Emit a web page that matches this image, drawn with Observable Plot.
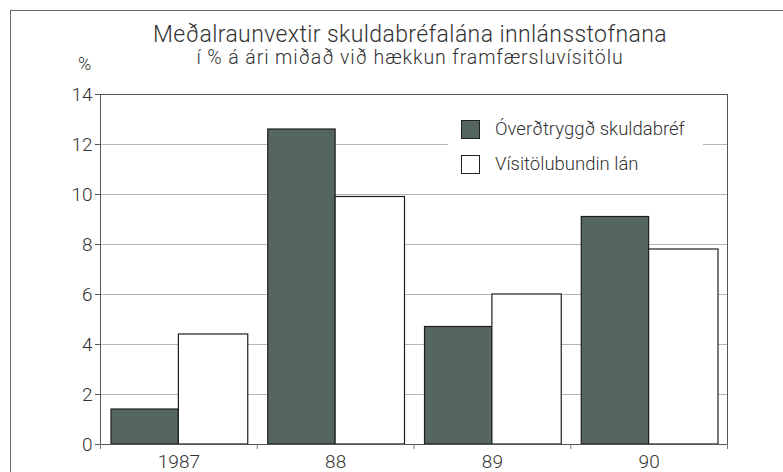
<!DOCTYPE html>
<html>
<head>
<meta charset="utf-8">
<script src="https://cdn.jsdelivr.net/npm/d3@7"></script>
<script src="https://cdn.jsdelivr.net/npm/@observablehq/plot@0.6"></script>
<style>
  html, body { margin: 0; padding: 0; background: #fff; }
  #wrap { position: relative; width: 783px; height: 472px; overflow: hidden; font-family: Roboto, "Liberation Sans", sans-serif; color: #333; }
  #border { position: absolute; left: 10px; top: 10px; width: 800px; height: 500px; border-top: 1.5px solid #666; border-left: 1.5px solid #666; }
  #chart { position: absolute; left: 0; top: 0; }
  .title { position: absolute; left: 110px; width: 600px; text-align: center; white-space: nowrap; font-weight: 300; }
  #t1 { top: 22px; font-size: 23px; line-height: 26px; letter-spacing: 0.4px; }
  #t2 { top: 47px; font-size: 19.5px; line-height: 22px; letter-spacing: 0.9px; }
  #unit { position: absolute; left: 78px; top: 54px; font-size: 18px; line-height: 20px; font-weight: 300; }
  #legend { position: absolute; left: 448px; top: 108px; width: 255px; height: 78px; background: #fff; }
  .item { position: absolute; left: 13px; height: 20px; display: flex; align-items: center; font-size: 18.5px; font-weight: 300; white-space: nowrap; }
  .sw { width: 19px; height: 19px; border: 1px solid #222; box-sizing: border-box; margin-right: 15px; }
</style>
</head>
<body>
<div id="wrap">
  <div id="border"></div>
  <div id="chart"></div>
  <div class="title" id="t1"></div>
  <div class="title" id="t2"></div>
  <div id="unit"></div>
  <div id="legend"></div>
</div>
<script>
const titleText = "Meðalraunvextir skuldabréfalána innlánsstofnana";
const subtitleText = "í % á ári miðað við hækkun framfærsluvísitölu";
const unitText = "%";
const years = ["1987", "88", "89", "90"];
const seriesNames = ["Óverðtryggð skuldabréf", "Vísitölubundin lán"];
const overtryggd = [1.4, 12.6, 4.7, 9.1];
const visitolu = [4.4, 9.9, 6.0, 7.8];
const yTicks = [0, 2, 4, 6, 8, 10, 12, 14];
const seriesColors = ["#55655f", "#ffffff"];

document.getElementById("t1").textContent = titleText;
document.getElementById("t2").textContent = subtitleText;
document.getElementById("unit").textContent = unitText;

const legend = document.getElementById("legend");
seriesNames.forEach((name, k) => {
  const it = document.createElement("div");
  it.className = "item";
  it.style.top = (11 + k * 35) + "px";
  const sw = document.createElement("div");
  sw.className = "sw";
  sw.style.background = seriesColors[k];
  const tx = document.createElement("span");
  tx.textContent = name;
  it.appendChild(sw); it.appendChild(tx);
  legend.appendChild(it);
});

const data = years.map((year, i) => ({i, year, a: overtryggd[i], b: visitolu[i]}));

const chart = Plot.plot({
  width: 783,
  height: 472,
  marginLeft: 100,
  marginRight: 56,
  marginTop: 94,
  marginBottom: 28,
  style: {fontFamily: "Roboto, 'Liberation Sans', sans-serif", fontSize: "19px", color: "#333", fontWeight: 300, background: "transparent"},
  x: {domain: [0, years.length], axis: null},
  y: {domain: [0, 14], axis: null},
  marks: [
    Plot.gridY(yTicks, {stroke: "#b5b5b5", strokeOpacity: 1}),
    Plot.rectY(data, {x1: d => d.i, x2: d => d.i + 0.5, y: "a", fill: seriesColors[0], stroke: "#1e1e1e", strokeWidth: 1.2, insetLeft: 11}),
    Plot.rectY(data, {x1: d => d.i + 0.5, x2: d => d.i + 1, y: "b", fill: seriesColors[1], stroke: "#1e1e1e", strokeWidth: 1.2, insetRight: 9}),
    Plot.frame({stroke: "#555"}),
    Plot.axisY({ticks: yTicks, tickSize: 5, tickPadding: 3, stroke: "#555"}),
    Plot.axisX({ticks: d3.range(years.length + 1), tickSize: 5, tickFormat: () => "", stroke: "#777"}),
    Plot.axisX({ticks: years.map((_, i) => i + 0.5), tickSize: 0, tickPadding: 10, letterSpacing: 0.5, tickFormat: d => years[Math.floor(d)]})
  ]
});
document.getElementById("chart").appendChild(chart);
</script>
</body>
</html>
